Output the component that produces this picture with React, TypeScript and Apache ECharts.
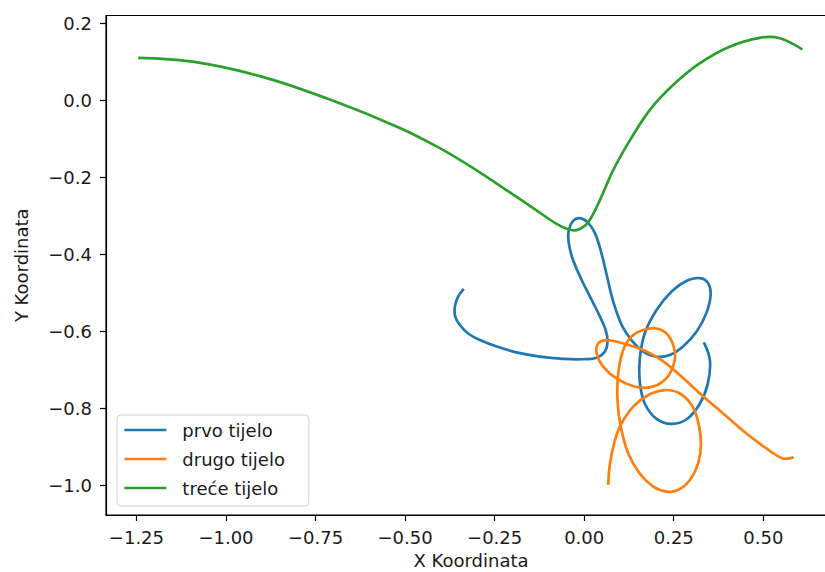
import React, { useEffect, useRef } from "react";
import * as echarts from "echarts";

const seriesNames = ["prvo tijelo", "drugo tijelo", "treće tijelo"];
const seriesColors = ["#1f77b4", "#ff7f0e", "#2ca02c"];

const xTicks = [-1.25, -1.0, -0.75, -0.5, -0.25, 0.0, 0.25, 0.5];
const yTicks = [-1.0, -0.8, -0.6, -0.4, -0.2, 0.0, 0.2];

const prvoX = [-0.336, -0.352, -0.361, -0.360, -0.347, -0.324, -0.291, -0.244, -0.189, -0.124, -0.059, -0.003, 0.035, 0.058, 0.065, 0.060, 0.044, 0.021, -0.007, -0.031, -0.043, -0.043, -0.031, -0.012, 0.010, 0.030, 0.047, 0.063, 0.076, 0.090, 0.107, 0.132, 0.165, 0.202, 0.239, 0.276, 0.314, 0.341, 0.353, 0.346, 0.323, 0.286, 0.244, 0.202, 0.169, 0.155, 0.156, 0.170, 0.202, 0.244, 0.286, 0.322, 0.345, 0.351, 0.334];
const prvoY = [-0.490, -0.510, -0.536, -0.562, -0.584, -0.606, -0.623, -0.640, -0.655, -0.666, -0.672, -0.673, -0.669, -0.653, -0.627, -0.597, -0.562, -0.519, -0.467, -0.415, -0.371, -0.337, -0.313, -0.306, -0.317, -0.345, -0.393, -0.454, -0.506, -0.549, -0.588, -0.623, -0.653, -0.666, -0.662, -0.640, -0.601, -0.553, -0.506, -0.475, -0.462, -0.469, -0.497, -0.545, -0.606, -0.675, -0.738, -0.790, -0.828, -0.841, -0.829, -0.790, -0.737, -0.675, -0.629];

const drugoX = [0.067, 0.072, 0.086, 0.104, 0.137, 0.179, 0.225, 0.267, 0.300, 0.318, 0.326, 0.318, 0.295, 0.262, 0.230, 0.193, 0.155, 0.123, 0.102, 0.093, 0.095, 0.109, 0.132, 0.165, 0.202, 0.234, 0.253, 0.248, 0.225, 0.183, 0.137, 0.090, 0.053, 0.035, 0.039, 0.063, 0.109, 0.165, 0.216, 0.267, 0.323, 0.388, 0.453, 0.509, 0.555, 0.585];
const drugoY = [-1.000, -0.944, -0.883, -0.840, -0.796, -0.766, -0.753, -0.762, -0.792, -0.835, -0.892, -0.944, -0.987, -1.013, -1.017, -1.004, -0.970, -0.918, -0.848, -0.779, -0.710, -0.649, -0.614, -0.597, -0.593, -0.610, -0.653, -0.692, -0.727, -0.746, -0.743, -0.723, -0.692, -0.658, -0.632, -0.623, -0.632, -0.649, -0.675, -0.714, -0.762, -0.814, -0.866, -0.905, -0.931, -0.928];

const treceX = [-1.245, -1.093, -0.900, -0.706, -0.513, -0.403, -0.310, -0.217, -0.133, -0.077, -0.045, -0.021, 0.002, 0.021, 0.044, 0.081, 0.128, 0.183, 0.248, 0.323, 0.406, 0.490, 0.546, 0.609];
const treceY = [0.111, 0.101, 0.062, 0.001, -0.072, -0.124, -0.176, -0.233, -0.286, -0.321, -0.335, -0.337, -0.326, -0.302, -0.259, -0.181, -0.103, -0.025, 0.040, 0.097, 0.140, 0.163, 0.162, 0.133];

const zip = (xs: number[], ys: number[]) => xs.map((x, i) => [x, ys[i]]);

const fmt = (digits: number) => (v: number) => {
  const s = Math.abs(v).toFixed(digits);
  return v < -1e-9 ? "\u2212" + s : s;
};

const FONT = "DejaVu Sans";
const TEXT = "#1a1a1a";
const LW = 2.7;

export default function App() {
  const ref = useRef<HTMLDivElement>(null);
  useEffect(() => {
    if (!ref.current) return;
    const chart = echarts.init(ref.current, null, { renderer: "svg" });
    const allData = [zip(prvoX, prvoY), zip(drugoX, drugoY), zip(treceX, treceY)];

    // line series only supply the legend icons
    const legendSeries = seriesNames.map((name, i) => ({
      name,
      type: "line",
      data: [],
      symbol: "none",
      color: seriesColors[i],
      lineStyle: { width: LW, color: seriesColors[i] },
    }));

    // custom series draw the trajectories as smooth curves through the axis scales
    const curveSeries = seriesNames.map((name, i) => ({
      name,
      type: "custom",
      coordinateSystem: "cartesian2d",
      data: allData[i],
      encode: { x: 0, y: 1 },
      clip: true,
      silent: true,
      renderItem: (params: any, api: any) => {
        if (params.dataIndex !== 0) return null;
        const pts = allData[i].map((p) => api.coord(p));
        return {
          type: "polyline",
          shape: { points: pts, smooth: 0.36, smoothConstraint: false },
          style: { stroke: seriesColors[i], lineWidth: LW, fill: null, lineJoin: "round", lineCap: "butt" },
        };
      },
    }));

    chart.setOption({
      animation: false,
      backgroundColor: "#ffffff",
      grid: {
        left: 106,
        right: -11,
        top: 15.5,
        bottom: 57,
        show: true,
        outerBoundsMode: "none",
        containLabel: false,
        borderColor: "#000",
        borderWidth: 1.2,
        backgroundColor: "transparent",
      },
      legend: {
        orient: "vertical",
        left: 117,
        top: 415,
        padding: [6, 24, 9, 6],
        itemWidth: 42,
        itemHeight: 14,
        itemGap: 11,
        backgroundColor: "rgba(255,255,255,0.8)",
        borderColor: "#d0d0d0",
        borderWidth: 1,
        borderRadius: 4,
        itemStyle: { opacity: 0 },
        lineStyle: { width: LW },
        textStyle: { fontFamily: FONT, fontSize: 18, color: TEXT, padding: [0, 0, 0, 11] },
        data: seriesNames,
      },
      xAxis: {
        type: "value",
        min: -1.335,
        max: 0.703,
        name: "X Koordinata",
        nameLocation: "middle",
        nameGap: 36,
        nameTextStyle: { fontFamily: FONT, fontSize: 18, color: TEXT },
        axisLine: { show: true, onZero: false, lineStyle: { color: "#000", width: 1.2 } },
        axisTick: { show: true, length: 6, customValues: xTicks, lineStyle: { color: "#000", width: 1.2 } },
        axisLabel: {
          customValues: xTicks,
          formatter: fmt(2),
          fontFamily: FONT,
          fontSize: 18,
          color: TEXT,
          margin: 13,
        },
        splitLine: { show: false },
      },
      yAxis: {
        type: "value",
        min: -1.078,
        max: 0.221,
        name: "Y Koordinata",
        nameLocation: "middle",
        nameGap: 76,
        nameTextStyle: { fontFamily: FONT, fontSize: 18, color: TEXT },
        axisLine: { show: true, onZero: false, lineStyle: { color: "#000", width: 1.2 } },
        axisTick: { show: true, length: 6, customValues: yTicks, lineStyle: { color: "#000", width: 1.2 } },
        axisLabel: {
          customValues: yTicks,
          formatter: fmt(1),
          fontFamily: FONT,
          fontSize: 18,
          color: TEXT,
          margin: 14,
        },
        splitLine: { show: false },
      },
      series: [...legendSeries, ...curveSeries],
    });
    return () => chart.dispose();
  }, []);
  return <div ref={ref} style={{ width: 825, height: 572, position: "absolute", left: 0, top: 0 }} />;
}
